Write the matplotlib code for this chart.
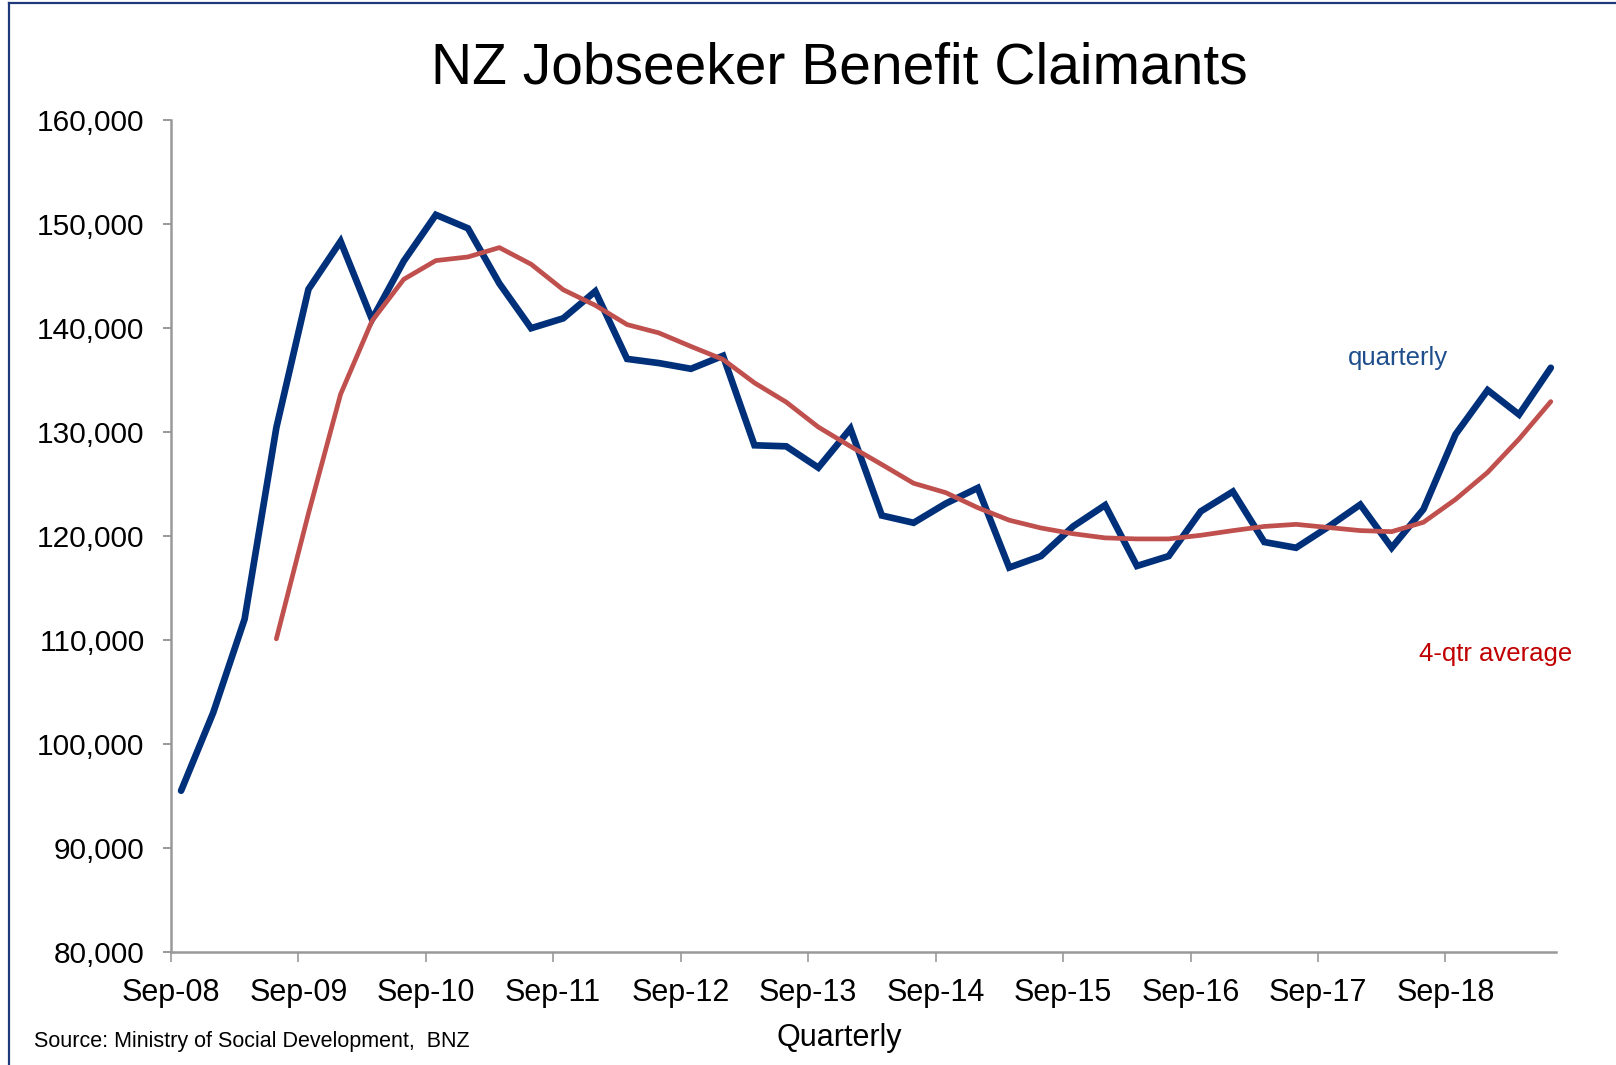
import matplotlib.pyplot as plt
from matplotlib.lines import Line2D
from matplotlib.ticker import FuncFormatter
import pandas as pd

plt.rcParams['font.family'] = ['Liberation Sans', 'DejaVu Sans']

# quarter-end dates, Sep-08 .. Jun-19
quarters = pd.date_range('2008-09-30', periods=44, freq='QE')

quarterly = [95500, 103000, 112000, 130400, 143700, 148300, 140800, 146400,
             150850, 149550, 144250, 139950, 140900, 143500, 137000, 136600,
             136050, 137300, 128700, 128600, 126550, 130300, 121950, 121250,
             123100, 124600, 116950, 118050, 120900, 122950, 117100, 118050,
             122350, 124250, 119400, 118850, 120850, 123000, 118850, 122550,
             129750, 134000, 131650, 136150]

# 4-quarter average starts at Jun-09
avg4 = [None, None, None, 110100, 122150, 133600, 140650, 144650,
        146450, 146800, 147700, 146100, 143650, 142150, 140300, 139500,
        138200, 136950, 134700, 132850, 130450, 128600, 126850, 125050,
        124150, 122700, 121500, 120750, 120200, 119800, 119700, 119700,
        120050, 120500, 120900, 121100, 120800, 120500, 120400, 121300,
        123500, 126100, 129300, 132900]

tick_dates = pd.date_range('2008-09-01', periods=11, freq='12MS')
tick_labels = [d.strftime('%b-%y') for d in tick_dates]

fig = plt.figure(figsize=(16.16, 10.65), dpi=100)
ax = fig.add_axes([0.1058, 0.1061, 0.8571, 0.7816])

avg_series = pd.Series(avg4, index=quarters, dtype=float)
ax.plot(quarters, quarterly, color='#00307A', lw=4.8, solid_capstyle='round',
        solid_joinstyle='miter', zorder=2)
ax.plot(avg_series.index, avg_series.values, color='#C0504D', lw=3.4,
        solid_capstyle='round', zorder=3)

ax.set_ylim(80000, 160000)
ax.set_yticks(range(80000, 160001, 10000))
ax.yaxis.set_major_formatter(FuncFormatter(lambda v, p: f'{int(v):,}'))
ax.set_xlim(pd.Timestamp('2008-09-01'), pd.Timestamp('2019-07-15'))
ax.set_xticks(tick_dates)
ax.set_xticklabels(tick_labels)

for s in ['top', 'right']:
    ax.spines[s].set_visible(False)
for s in ['left', 'bottom']:
    ax.spines[s].set_color('#999999')
    ax.spines[s].set_linewidth(1.8)

ax.tick_params(axis='y', direction='out', length=6, width=1.4, color='#999999',
               labelsize=21.5, pad=13)
ax.tick_params(axis='x', direction='out', length=7, width=1.2, color='#999999',
               labelsize=22, pad=12)

ax.text(0.8856, 0.714, 'quarterly', transform=ax.transAxes, ha='center',
        va='center', fontsize=18.5, color='#1F4E8C')
ax.text(0.9567, 0.358, '4-qtr average', transform=ax.transAxes, ha='center',
        va='center', fontsize=18.5, color='#C00000')

fig.text(839 / 1616, 1 - 68 / 1065, 'NZ Jobseeker Benefit Claimants',
         ha='center', va='center', fontsize=41)
fig.text(839 / 1616, 1 - 1038 / 1065, 'Quarterly', ha='center', va='center',
         fontsize=22)
fig.text(34 / 1616, 1 - 1041 / 1065, 'Source: Ministry of Social Development,  BNZ',
         ha='left', va='center', fontsize=15.5)

# frame lines along top and left edge
fig.add_artist(Line2D([9 / 1616, 1], [1 - 2.5 / 1065, 1 - 2.5 / 1065],
                      transform=fig.transFigure, color='#1F3A7A', lw=1.6))
fig.add_artist(Line2D([9 / 1616, 9 / 1616], [0, 1 - 2.5 / 1065],
                      transform=fig.transFigure, color='#1F3A7A', lw=1.6))

fig.savefig('out.png', dpi=100)
